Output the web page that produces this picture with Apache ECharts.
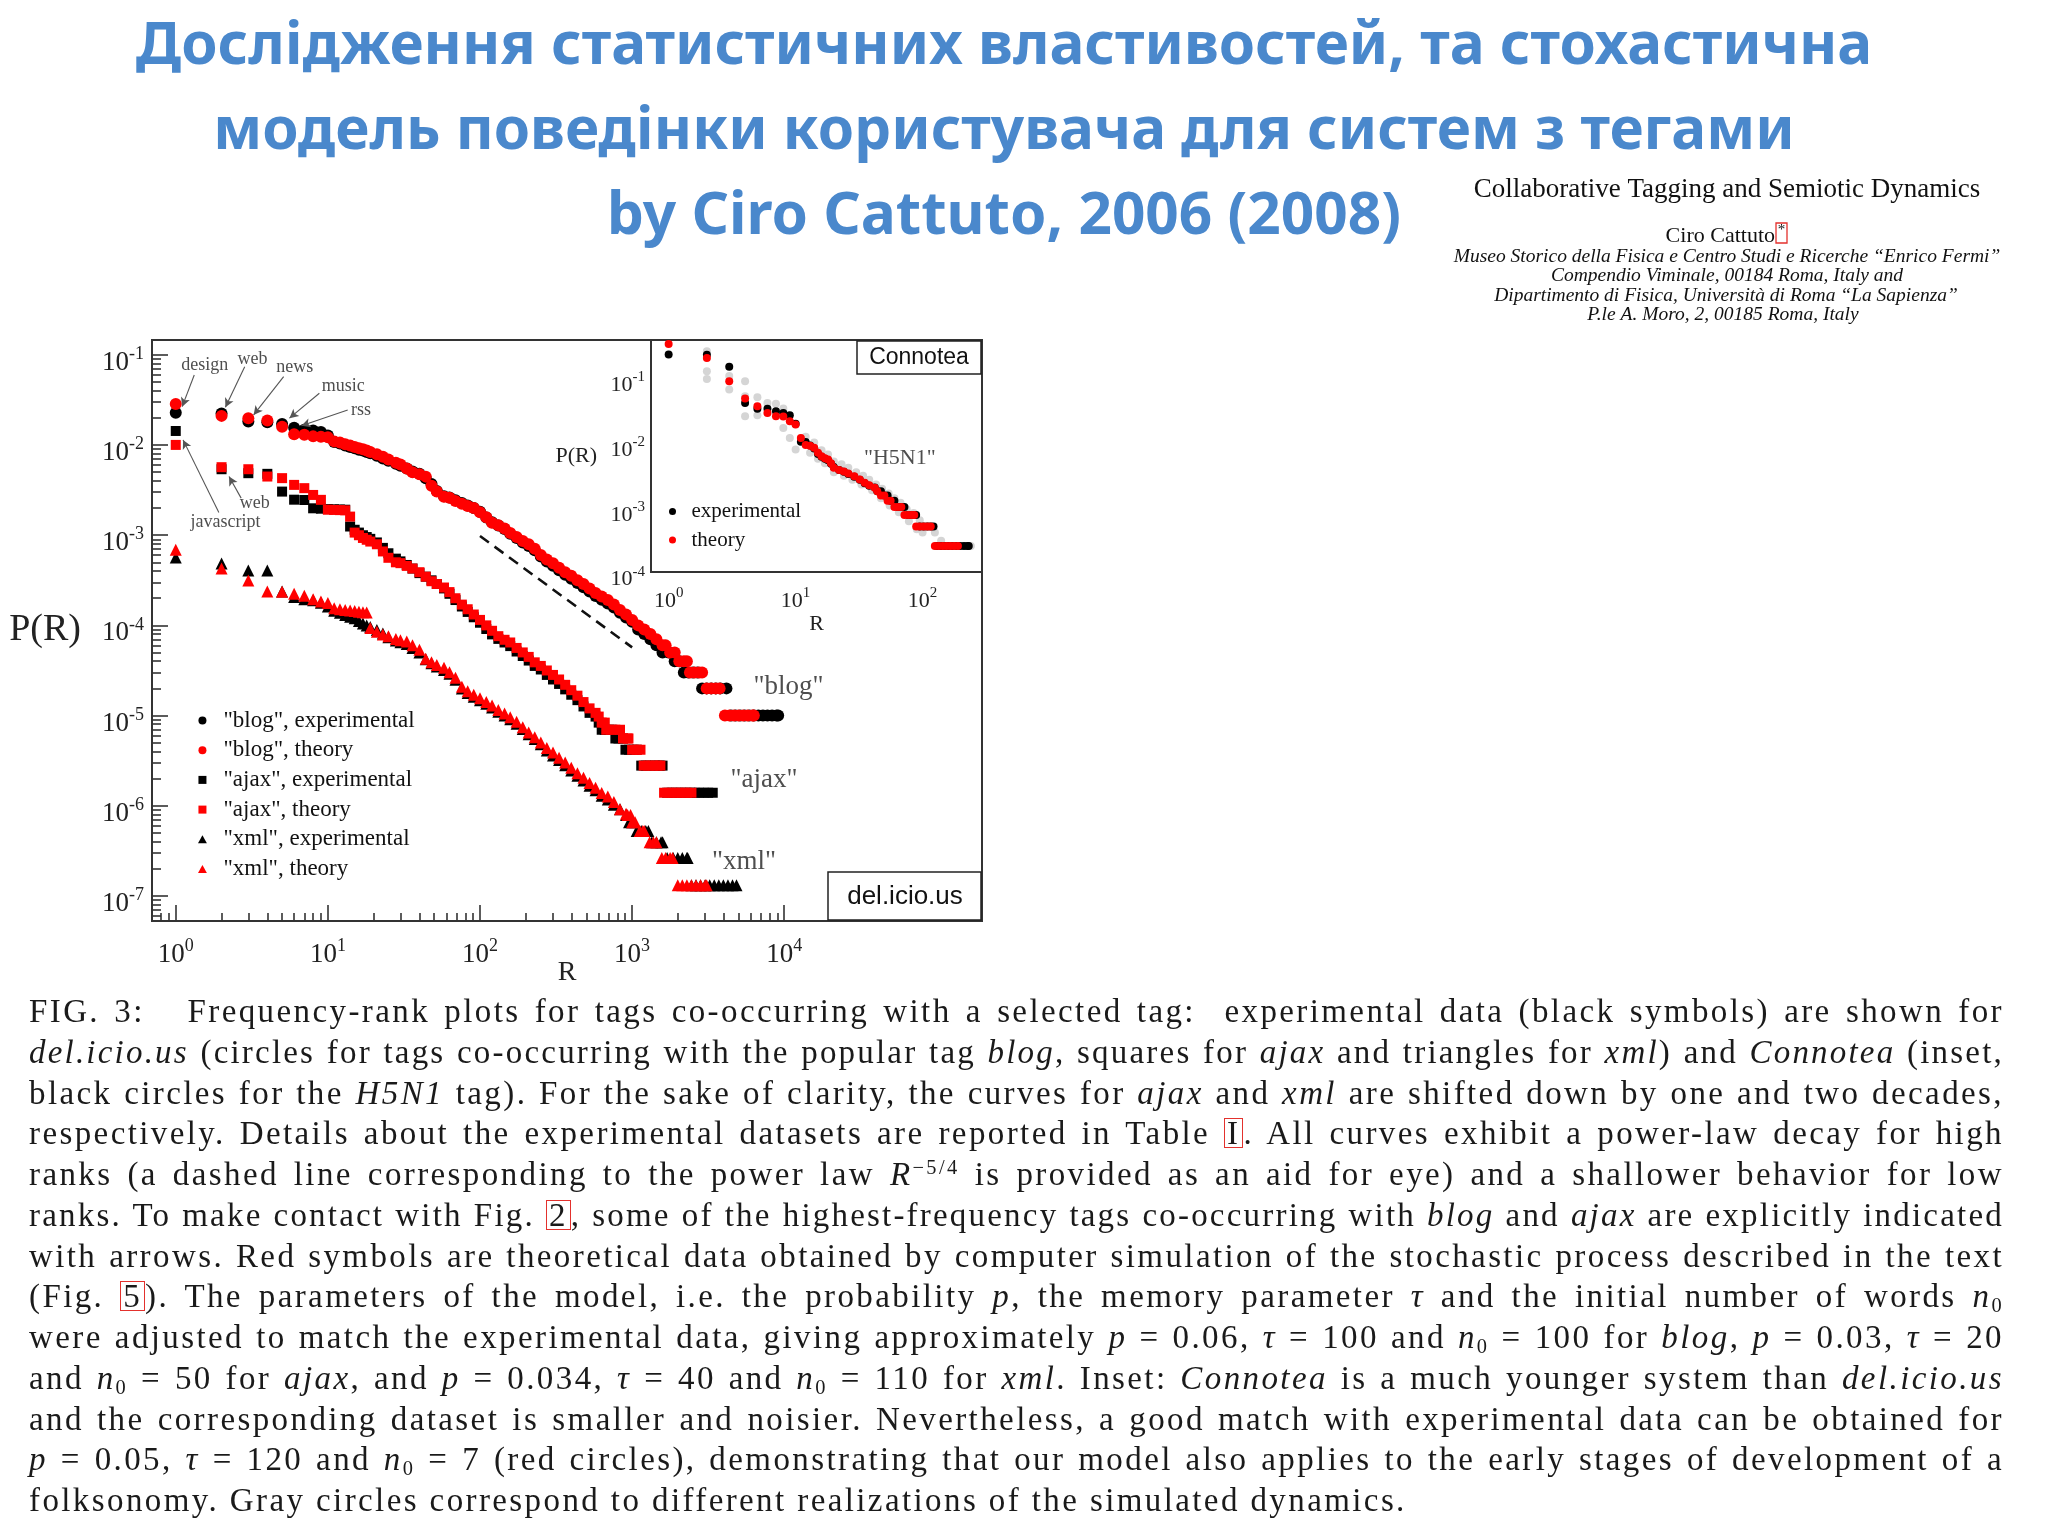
<!DOCTYPE html>
<html>
<head>
<meta charset="utf-8">
<script src="https://cdn.jsdelivr.net/npm/echarts@6/dist/echarts.min.js"></script>
<style>
html,body{margin:0;padding:0;background:#fff;}
#chart{position:absolute;left:0;top:0;width:2048px;height:1536px;}
#caption{position:absolute;left:29px;top:991px;width:1975px;font-family:'Liberation Serif','Times New Roman',serif;font-size:33px;line-height:40.75px;color:#1a1a1a;}
#caption .l{text-align:justify;text-align-last:justify;}
#caption .l.last{text-align:left;text-align-last:left;}
#caption sup{font-size:0.62em;vertical-align:0.55em;line-height:0;}
#caption sub{font-size:0.62em;vertical-align:-0.25em;line-height:0;}
#caption .rb{display:inline-block;line-height:0.82em;padding:1px 2px 0 2px;border:1.5px solid #e3312d;}
</style>
</head>
<body>
<div id="chart"></div>
<div id="caption">
<div class="l">FIG. 3:&nbsp;&nbsp; Frequency-rank plots for tags co-occurring with a selected tag:&nbsp; experimental data (black symbols) are shown for</div>
<div class="l"><i>del.icio.us</i> (circles for tags co-occurring with the popular tag <i>blog</i>, squares for <i>ajax</i> and triangles for <i>xml</i>) and <i>Connotea</i> (inset,</div>
<div class="l">black circles for the <i>H5N1</i> tag). For the sake of clarity, the curves for <i>ajax</i> and <i>xml</i> are shifted down by one and two decades,</div>
<div class="l">respectively. Details about the experimental datasets are reported in Table <span class="rb">I</span>. All curves exhibit a power-law decay for high</div>
<div class="l">ranks (a dashed line corresponding to the power law <i>R</i><sup>−5/4</sup> is provided as an aid for eye) and a shallower behavior for low</div>
<div class="l">ranks. To make contact with Fig. <span class="rb">2</span>, some of the highest-frequency tags co-occurring with <i>blog</i> and <i>ajax</i> are explicitly indicated</div>
<div class="l">with arrows. Red symbols are theoretical data obtained by computer simulation of the stochastic process described in the text</div>
<div class="l">(Fig. <span class="rb">5</span>). The parameters of the model, i.e. the probability <i>p</i>, the memory parameter <i>τ</i> and the initial number of words <i>n</i><sub>0</sub></div>
<div class="l">were adjusted to match the experimental data, giving approximately <i>p</i> = 0.06, <i>τ</i> = 100 and <i>n</i><sub>0</sub> = 100 for <i>blog</i>, <i>p</i> = 0.03, <i>τ</i> = 20</div>
<div class="l">and <i>n</i><sub>0</sub> = 50 for <i>ajax</i>, and <i>p</i> = 0.034, <i>τ</i> = 40 and <i>n</i><sub>0</sub> = 110 for <i>xml</i>. Inset: <i>Connotea</i> is a much younger system than <i>del.icio.us</i></div>
<div class="l">and the corresponding dataset is smaller and noisier. Nevertheless, a good match with experimental data can be obtained for</div>
<div class="l"><i>p</i> = 0.05, <i>τ</i> = 120 and <i>n</i><sub>0</sub> = 7 (red circles), demonstrating that our model also applies to the early stages of development of a</div>
<div class="l last">folksonomy. Gray circles correspond to different realizations of the simulated dynamics.</div>
</div>
<script>
// ---------------- tick values ----------------
const mainXMajor = [1, 10, 100, 1000, 10000];
const mainXMinor = [0.8, 0.9, 2, 3, 4, 5, 6, 7, 8, 9, 20, 30, 40, 50, 60, 70, 80, 90,
  200, 300, 400, 500, 600, 700, 800, 900, 2000, 3000, 4000, 5000, 6000, 7000, 8000, 9000];
const mainYMajor = [1e-7, 1e-6, 1e-5, 1e-4, 1e-3, 1e-2, 1e-1];
const mainYMinor = [6e-8, 7e-8, 8e-8, 9e-8,
  2e-7, 3e-7, 4e-7, 5e-7, 6e-7, 7e-7, 8e-7, 9e-7,
  2e-6, 3e-6, 4e-6, 5e-6, 6e-6, 7e-6, 8e-6, 9e-6,
  2e-5, 3e-5, 4e-5, 5e-5, 6e-5, 7e-5, 8e-5, 9e-5,
  2e-4, 3e-4, 4e-4, 5e-4, 6e-4, 7e-4, 8e-4, 9e-4,
  2e-3, 3e-3, 4e-3, 5e-3, 6e-3, 7e-3, 8e-3, 9e-3,
  2e-2, 3e-2, 4e-2, 5e-2, 6e-2, 7e-2, 8e-2, 9e-2];
const insetXMajor = [1, 10, 100];
const insetXMinor = [0.8, 0.9, 2, 3, 4, 5, 6, 7, 8, 9, 20, 30, 40, 50, 60, 70, 80, 90, 200];
const insetYMajor = [1e-4, 1e-3, 1e-2, 1e-1];
const insetYMinor = [2e-4, 3e-4, 4e-4, 5e-4, 6e-4, 7e-4, 8e-4, 9e-4,
  2e-3, 3e-3, 4e-3, 5e-3, 6e-3, 7e-3, 8e-3, 9e-3,
  2e-2, 3e-2, 4e-2, 5e-2, 6e-2, 7e-2, 8e-2, 9e-2, 0.2, 0.3];

// ---------------- del.icio.us data [rank R, P(R)] ----------------
const blogExp = [[1,2.28e-2],[2,2.24e-2],[3,1.83e-2],[4,1.79e-2],[5,1.72e-2],[6,1.56e-2],[7,1.48e-2],[8,1.45e-2],[9,1.40e-2],[10,1.28e-2],
  [11,1.08e-2],[12,1.04e-2],[13,9.9e-3],[14,9.5e-3],[15,9.2e-3],[16,8.9e-3],[17,8.7e-3],[18,8.4e-3],[19,8.1e-3],[21,7.6e-3],[23,7.1e-3],
  [25,6.7e-3],[28,6.2e-3],[30,5.9e-3],[33,5.5e-3],[36,5.1e-3],[40,4.8e-3],[44,4.3e-3],[48,3.7e-3],[52,3.1e-3],[58,2.7e-3],[63,2.62e-3],
  [69,2.45e-3],[76,2.28e-3],[83,2.14e-3],[91,2.01e-3],[100,1.82e-3],[110,1.57e-3],[120,1.39e-3],[132,1.28e-3],[145,1.17e-3],[158,1.04e-3],
  [174,9.3e-4],[191,8.3e-4],[209,7.6e-4],[229,6.8e-4],[251,5.8e-4],[275,5.1e-4],[302,4.6e-4],[331,4.1e-4],[363,3.65e-4],[398,3.3e-4],
  [437,2.95e-4],[479,2.65e-4],[525,2.38e-4],[575,2.12e-4],[631,1.93e-4],[692,1.75e-4],[759,1.58e-4],[832,1.38e-4],[912,1.22e-4],[1000,1.1e-4],
  [1096,9.0e-5],[1202,8.0e-5],[1318,7.0e-5],[1445,6.0e-5],[1585,5.0e-5],[1738,5.0e-5],[1905,4.0e-5],[2042,4.0e-5],
  [2188,3.0e-5],[2344,3.0e-5],[2512,3.0e-5],[2692,3.0e-5],
  [2884,2.0e-5],[3090,2.0e-5],[3311,2.0e-5],[3548,2.0e-5],[3802,2.0e-5],[4169,2.0e-5],
  [4467,1.0e-5],[4786,1.0e-5],[5129,1.0e-5],[5495,1.0e-5],[5888,1.0e-5],[6310,1.0e-5],[6761,1.0e-5],[7244,1.0e-5],[7762,1.0e-5],[8318,1.0e-5],[8913,1.0e-5],[9120,1.0e-5]];
const blogTheory = [[1,2.86e-2],[2,2.11e-2],[3,1.99e-2],[4,1.87e-2],[5,1.60e-2],[6,1.32e-2],[7,1.30e-2],[8,1.25e-2],[9,1.24e-2],[10,1.22e-2],
  [11,1.10e-2],[12,1.07e-2],[13,1.02e-2],[14,9.89e-3],[15,9.55e-3],[16,9.23e-3],[17,9.02e-3],[18,8.71e-3],[19,8.41e-3],[21,7.94e-3],[23,7.41e-3],
  [25,6.92e-3],[28,6.38e-3],[30,6.10e-3],[33,5.50e-3],[36,5.01e-3],[40,4.76e-3],[44,4.47e-3],[48,3.55e-3],[52,3.05e-3],[58,2.68e-3],[63,2.60e-3],
  [69,2.40e-3],[76,2.24e-3],[83,2.11e-3],[91,2.00e-3],[100,1.80e-3],[110,1.58e-3],[120,1.38e-3],[132,1.29e-3],[145,1.19e-3],[158,1.06e-3],
  [174,9.55e-4],[191,8.61e-4],[209,7.94e-4],[229,7.08e-4],[251,6.03e-4],[275,5.37e-4],[302,4.90e-4],[331,4.37e-4],[363,3.89e-4],[398,3.55e-4],
  [437,3.16e-4],[479,2.88e-4],[525,2.57e-4],[575,2.29e-4],[631,2.09e-4],[692,1.91e-4],[759,1.70e-4],[832,1.48e-4],[912,1.32e-4],[1000,1.15e-4],
  [1096,1.0e-4],[1202,9.0e-5],[1318,8.0e-5],[1445,7.0e-5],[1585,6.0e-5],[1660,6.0e-5],[1778,5.0e-5],[1905,5.0e-5],
  [2042,4.0e-5],[2188,4.0e-5],[2291,4.0e-5],
  [2399,3.0e-5],[2570,3.0e-5],[2754,3.0e-5],[2884,3.0e-5],
  [3090,2.0e-5],[3311,2.0e-5],[3548,2.0e-5],[3758,2.0e-5],
  [4074,1.0e-5],[4365,1.0e-5],[4677,1.0e-5],[5012,1.0e-5],[5370,1.0e-5],[5754,1.0e-5],[6166,1.0e-5],[6310,1.0e-5]];
const ajaxExp = [[1,1.435e-2],[2,5.40e-3],[3,4.88e-3],[4,4.80e-3],[5,3.05e-3],[6,2.48e-3],[7,2.46e-3],[8,1.99e-3],[9,1.97e-3],[10,1.95e-3],
  [11,1.94e-3],[12,1.93e-3],[13,1.92e-3],[14,1.25e-3],[15,1.15e-3],[16,1.07e-3],[17,1.00e-3],[18,9.55e-4],[19,9.12e-4],[21,8.32e-4],[23,7.24e-4],
  [25,6.31e-4],[28,5.50e-4],[30,5.13e-4],[33,4.68e-4],[36,4.27e-4],[40,3.80e-4],[44,3.47e-4],[48,3.16e-4],[52,2.88e-4],[58,2.57e-4],[63,2.24e-4],
  [69,1.91e-4],[76,1.62e-4],[83,1.41e-4],[91,1.23e-4],[100,1.07e-4],[110,9.12e-5],[120,7.94e-5],[132,7.08e-5],[145,6.46e-5],[158,5.89e-5],
  [174,5.13e-5],[191,4.57e-5],[209,4.07e-5],[229,3.55e-5],[251,3.24e-5],[275,2.82e-5],[302,2.51e-5],[331,2.24e-5],[363,1.95e-5],[398,1.70e-5],
  [437,1.48e-5],[479,1.26e-5],[525,1.07e-5],[575,9.73e-6],[603,8.34e-6],
  [631,6.95e-6],[661,6.95e-6],[708,6.95e-6],[741,6.95e-6],
  [776,5.56e-6],[813,5.56e-6],[871,5.56e-6],
  [904,4.17e-6],[955,4.17e-6],[1023,4.17e-6],[1072,4.17e-6],
  [1148,2.78e-6],[1230,2.78e-6],[1318,2.78e-6],[1413,2.78e-6],[1514,2.78e-6],[1585,2.78e-6],
  [1698,1.39e-6],[1820,1.39e-6],[1950,1.39e-6],[2089,1.39e-6],[2239,1.39e-6],[2399,1.39e-6],[2570,1.39e-6],[2754,1.39e-6],[2951,1.39e-6],[3162,1.39e-6],[3388,1.39e-6]];
const ajaxTheory = [[1,1.005e-2],[2,5.69e-3],[3,5.40e-3],[4,4.48e-3],[5,4.30e-3],[6,3.62e-3],[7,3.33e-3],[8,2.80e-3],[9,2.47e-3],[10,1.92e-3],
  [11,1.91e-3],[12,1.90e-3],[13,1.89e-3],[14,1.61e-3],[15,1.07e-3],[16,1.00e-3],[17,9.33e-4],[18,8.91e-4],[19,8.51e-4],[21,7.94e-4],[23,6.61e-4],
  [25,5.62e-4],[28,5.01e-4],[30,4.90e-4],[33,4.57e-4],[36,4.27e-4],[40,3.89e-4],[44,3.47e-4],[48,3.09e-4],[52,2.88e-4],[58,2.63e-4],[63,2.34e-4],
  [69,2.00e-4],[76,1.70e-4],[83,1.51e-4],[91,1.32e-4],[100,1.15e-4],[110,1.00e-4],[120,8.71e-5],[132,7.59e-5],[145,6.92e-5],[158,6.46e-5],
  [174,5.62e-5],[191,5.01e-5],[209,4.47e-5],[229,3.89e-5],[251,3.55e-5],[275,3.16e-5],[302,2.82e-5],[331,2.51e-5],[363,2.19e-5],[398,1.91e-5],
  [437,1.66e-5],[479,1.41e-5],[525,1.20e-5],[575,1.07e-5],[603,9.73e-6],[631,8.34e-6],[661,8.34e-6],
  [676,6.95e-6],[724,6.95e-6],[776,6.95e-6],[832,6.95e-6],
  [871,5.56e-6],[933,5.56e-6],[946,5.56e-6],
  [1000,4.17e-6],[1072,4.17e-6],[1135,4.17e-6],
  [1191,2.78e-6],[1276,2.78e-6],[1368,2.78e-6],[1466,2.78e-6],[1535,2.78e-6],
  [1622,1.39e-6],[1738,1.39e-6],[1862,1.39e-6],[1995,1.39e-6],[2138,1.39e-6],[2291,1.39e-6],[2455,1.39e-6]];
const xmlExp = [[1,5.66e-4],[2,4.86e-4],[3,4.06e-4],[4,4.05e-4],[5,2.38e-4],[6,2.06e-4],[7,1.95e-4],[8,1.90e-4],[9,1.78e-4],[10,1.62e-4],
  [11,1.45e-4],[12,1.38e-4],[13,1.30e-4],[14,1.25e-4],[15,1.20e-4],[16,1.12e-4],[17,1.05e-4],[18,1.00e-4],[19,9.6e-5],[21,8.9e-5],[23,8.1e-5],
  [25,7.4e-5],[28,6.8e-5],[30,6.5e-5],[33,6.2e-5],[36,5.6e-5],[40,5.0e-5],[44,4.2e-5],[48,3.8e-5],[52,3.5e-5],[58,3.2e-5],[63,2.9e-5],
  [69,2.5e-5],[76,2.0e-5],[83,1.78e-5],[91,1.62e-5],[100,1.48e-5],[110,1.35e-5],[120,1.23e-5],[132,1.10e-5],[145,1.00e-5],[158,9.1e-6],
  [174,8.1e-6],[191,7.1e-6],[209,6.2e-6],[229,5.5e-6],[251,4.8e-6],[275,4.1e-6],[302,3.6e-6],[331,3.2e-6],[363,2.8e-6],[398,2.45e-6],
  [437,2.14e-6],[479,1.9e-6],[525,1.66e-6],[575,1.48e-6],[631,1.29e-6],[692,1.17e-6],[759,1.02e-6],[832,9.1e-7],[912,7.86e-7],
  [955,6.55e-7],[1000,6.55e-7],
  [1072,5.24e-7],[1148,5.24e-7],[1230,5.24e-7],[1279,5.24e-7],
  [1349,3.93e-7],[1445,3.93e-7],[1549,3.93e-7],[1585,3.93e-7],
  [1698,2.62e-7],[1862,2.62e-7],[1995,2.62e-7],[2138,2.62e-7],[2291,2.62e-7],[2317,2.62e-7],
  [2455,1.31e-7],[2630,1.31e-7],[2818,1.31e-7],[3020,1.31e-7],[3236,1.31e-7],[3467,1.31e-7],[3715,1.31e-7],[3981,1.31e-7],[4266,1.31e-7],[4571,1.31e-7],[4853,1.31e-7]];
const xmlTheory = [[1,6.9e-4],[2,4.28e-4],[3,3.15e-4],[4,2.38e-4],[5,2.36e-4],[6,2.24e-4],[7,2.13e-4],[8,1.95e-4],[9,1.84e-4],[10,1.77e-4],
  [11,1.55e-4],[12,1.51e-4],[13,1.48e-4],[14,1.46e-4],[15,1.44e-4],[16,1.42e-4],[17,1.40e-4],[18,1.39e-4],[19,9.33e-5],[21,8.51e-5],[23,7.94e-5],
  [25,7.59e-5],[28,7.08e-5],[30,6.84e-5],[33,6.61e-5],[36,6.03e-5],[40,5.37e-5],[44,4.27e-5],[48,3.89e-5],[52,3.63e-5],[58,3.39e-5],[63,3.02e-5],
  [69,2.63e-5],[76,2.09e-5],[83,1.86e-5],[91,1.70e-5],[100,1.55e-5],[110,1.41e-5],[120,1.29e-5],[132,1.15e-5],[145,1.05e-5],[158,9.55e-6],
  [174,8.51e-6],[191,7.41e-6],[209,6.46e-6],[229,5.75e-6],[251,5.01e-6],[275,4.37e-6],[302,3.89e-6],[331,3.39e-6],[363,3.02e-6],[398,2.63e-6],
  [437,2.29e-6],[479,2.04e-6],[525,1.78e-6],[575,1.58e-6],[631,1.38e-6],[692,1.26e-6],[759,1.10e-6],[832,9.12e-7],[912,8.13e-7],
  [933,7.86e-7],[977,7.86e-7],
  [1000,6.55e-7],[1047,6.55e-7],
  [1122,5.24e-7],[1175,5.24e-7],[1202,5.24e-7],
  [1303,3.93e-7],[1380,3.93e-7],[1445,3.93e-7],
  [1567,2.62e-7],[1660,2.62e-7],[1778,2.62e-7],[1845,2.62e-7],
  [1995,1.31e-7],[2138,1.31e-7],[2291,1.31e-7],[2455,1.31e-7],[2630,1.31e-7],[2818,1.31e-7],[3020,1.31e-7],[3090,1.31e-7]];

// power law R^-5/4 guide (dashed)
const powerLawGuide = [[100, 9.8e-4], [1000, 5.7e-5]];

// ---------------- Connotea inset data ----------------
const connoteaExp = [[1,0.221],[2,0.219],[3,0.143],[4,0.0398],[5,0.0324],[6,0.0322],[7,0.0296],[8,0.0279],[9,0.0257],[10,0.019],
  [11,0.0100],[12,0.0099],[13,0.0088],[14,7.9e-3],[15,6.5e-3],[16,5.9e-3],[17,5.5e-3],[18,5.2e-3],[19,4.6e-3],[20,4.1e-3],[22,3.7e-3],
  [24,3.45e-3],[26,3.2e-3],[29,2.9e-3],[32,2.6e-3],[35,2.3e-3],[38,2.1e-3],[42,1.98e-3],[44,1.74e-3],[47,1.74e-3],[50,1.49e-3],[53,1.49e-3],
  [56,1.24e-3],[60,1.24e-3],[64,9.93e-4],[68,9.93e-4],[72,9.93e-4],[77,7.45e-4],[82,7.45e-4],[86,7.45e-4],[89,7.45e-4],
  [95,4.97e-4],[102,4.97e-4],[109,4.97e-4],[116,4.97e-4],[122,4.97e-4],
  [130,2.48e-4],[140,2.48e-4],[150,2.48e-4],[160,2.48e-4],[172,2.48e-4],[185,2.48e-4],[198,2.48e-4],[212,2.48e-4],[226,2.48e-4],[231,2.48e-4]];
const connoteaTheory = [[1,0.322],[2,0.196],[3,0.086],[4,0.0464],[5,0.0354],[6,0.0279],[7,0.0248],[8,0.0245],[9,0.0208],[10,0.0185],
  [11,0.0115],[12,0.0089],[13,0.0087],[14,8.1e-3],[15,6.8e-3],[16,6.0e-3],[17,5.6e-3],[18,5.35e-3],[19,4.7e-3],[20,4.0e-3],[22,3.7e-3],
  [24,3.5e-3],[26,3.24e-3],[29,2.96e-3],[32,2.63e-3],[35,2.34e-3],[38,2.14e-3],[42,1.96e-3],[44,1.74e-3],[47,1.49e-3],[50,1.49e-3],
  [53,1.24e-3],[56,1.24e-3],[60,9.93e-4],[64,9.93e-4],[68,9.93e-4],[72,7.45e-4],[77,7.45e-4],[82,7.45e-4],[86,7.45e-4],
  [89,4.97e-4],[95,4.97e-4],[102,4.97e-4],[109,4.97e-4],[116,4.97e-4],
  [125,2.48e-4],[134,2.48e-4],[144,2.48e-4],[154,2.48e-4],[165,2.48e-4],[177,2.48e-4],[190,2.48e-4]];
const connoteaRealizations = [[2,0.248],[2,0.122],[2,0.093],[3,0.103],[3,0.0638],[4,0.0859],[4,0.0505],[4,0.0248],[5,0.0488],[5,0.0257],
  [6,0.0398],[7,0.0385],[8,0.0326],[8,0.0164],[9,0.0115],[10,0.0076],[10,0.0186],
  [12,0.0120],[14,0.0098],[16,0.0074],[18,0.0064],[20,0.0050],[23,0.0045],[26,0.0040],[30,0.0034],[34,0.0030],[38,0.0026],[43,0.0022],
  [48,0.0019],[54,0.0016],[60,0.00135],[67,0.00115],[75,0.00092],[85,0.00080],[95,0.00062],[110,0.00050],[125,0.00040],[140,0.00030],
  [160,2.48e-4],[190,2.48e-4],[215,2.48e-4],[240,2.48e-4],
  [13,0.0068],[15,0.0055],[17,0.0047],[20,0.0034],[24,0.0030],[28,0.0026],[33,0.0022],[40,0.0018],[47,0.00135],[55,0.00105],[65,0.00082],
  [78,0.00060],[90,0.00045],[100,0.00040]];

// ---------------- annotations ----------------
const tagNotes = [['design',1.55,0.0775],['web',3.19,0.0896],['news',6.06,0.0731],['music',12.6,0.0446],['rss',16.5,0.0245],
  ['web',3.30,0.00227],['javascript',2.12,0.0014]];
const tagArrows = [[[1.323,0.060],[1.102,0.0267]],[[2.84,0.0741],[2.12,0.0263]],[[5.12,0.0574],[3.25,0.0216]],
  [[8.79,0.0376],[5.59,0.0199]],[[13.5,0.0245],[6.70,0.0164]],[[2.69,0.00258],[2.24,0.00448]],[[1.92,0.00179],[1.117,0.01143]]];
const curveNames = [['"blog"',10674,2.08e-5],['"ajax"',7365,1.94e-6],['"xml"',5433,2.39e-7]];
const insetCurveName = [['"H5N1"',66.2,5.68e-3]];

const mainLegend = ['"blog", experimental','"blog", theory','"ajax", experimental','"ajax", theory','"xml", experimental','"xml", theory'];
const mainLegendIcons = ['circle','circle','path://M0,0L10,0L10,10L0,10Z','path://M0,0L10,0L10,10L0,10Z','path://M5,0L10,9L0,9Z','path://M5,0L10,9L0,9Z'];
const insetLegend = ['experimental','theory'];

// ---------------- chart ----------------
const SERIF = "'Liberation Serif','Times New Roman',serif";
const INK = '#222';
function expLabel(v) { return '{b|10}{s|' + Math.round(Math.log10(v)) + '}'; }
function rich(big, small) {
  return {
    b: {fontFamily: SERIF, fontSize: big, lineHeight: big + 8, color: INK},
    s: {fontFamily: SERIF, fontSize: small, lineHeight: small, verticalAlign: 'top', color: INK}
  };
}
function axis(grid, min, max, pos, major, ticks, len, labelOpt, nameOpt) {
  const a = {
    gridIndex: grid, type: 'log', logBase: 10, min: min, max: max, position: pos,
    axisLine: {show: false}, splitLine: {show: false}, minorTick: {show: false},
    axisTick: {show: true, inside: true, length: len, customValues: ticks, lineStyle: {color: '#333', width: 1.6}},
    axisLabel: {show: false}
  };
  if (major && labelOpt) {
    a.axisLabel = {show: true, customValues: ticks, formatter: expLabel, margin: labelOpt.margin,
      padding: labelOpt.padding || 0, rich: rich(labelOpt.big, labelOpt.small)};
  }
  if (nameOpt) {
    a.name = nameOpt.text; a.nameLocation = 'middle'; a.nameGap = nameOpt.gap; a.nameRotate = 0;
    a.nameTextStyle = {fontFamily: SERIF, fontSize: nameOpt.size, color: INK};
    if (nameOpt.noMove) { a.nameMoveOverlap = false; }
  }
  return a;
}

const chart = echarts.init(document.getElementById('chart'), null, {renderer: 'canvas', width: 2048, height: 1536});

function sc(name, data, xi, yi, symbol, size, color, z) {
  return {type: 'scatter', name: name, data: data, xAxisIndex: xi, yAxisIndex: yi, symbol: symbol, symbolSize: size,
    itemStyle: {color: color, opacity: 1}, z: z || 2, silent: true, clip: true};
}

const TITLE_FONT = 'bold 58.5px "Noto Sans"';
const TITLE_COLOR = '#4a88cc';

const option = {
  animation: false,
  backgroundColor: '#fff',
  grid: [
    {left: 152, top: 340, width: 830, height: 581, show: true, borderColor: '#333', borderWidth: 2, backgroundColor: '#fff', containLabel: false, outerBoundsMode: 'none'},
    {left: 651, top: 340, width: 331, height: 232, show: true, borderColor: '#333', borderWidth: 2, backgroundColor: '#fff', containLabel: false, outerBoundsMode: 'none', z: 1}
  ],
  xAxis: [
    axis(0, 0.698, 199500, 'bottom', true, mainXMajor, 16, {margin: 16, big: 27, small: 18}, {text: 'R', gap: 38, size: 28, noMove: true}),
    axis(0, 0.698, 199500, 'bottom', false, mainXMinor, 8),
    axis(1, 0.726, 293.8, 'bottom', true, insetXMajor, 15, {margin: 14, big: 22, small: 15}, {text: 'R', gap: 40, size: 22}),
    axis(1, 0.726, 293.8, 'bottom', false, insetXMinor, 8)
  ],
  yAxis: [
    axis(0, 5.25e-8, 0.1466, 'left', true, mainYMajor, 16, {margin: 8, big: 27, small: 18, padding: [16, 0, 0, 0]}, {text: 'P(R)', gap: 71, size: 38}),
    axis(0, 5.25e-8, 0.1466, 'left', false, mainYMinor, 9),
    axis(1, 9.9e-5, 0.37, 'left', true, insetYMajor, 15, {margin: 6, big: 22, small: 15, padding: [16, 0, 0, 0]}, {text: 'P(R)', gap: 54, size: 22}),
    axis(1, 9.9e-5, 0.37, 'left', false, insetYMinor, 8)
  ],
  legend: [
    {data: mainLegend.map((n, i) => ({name: n, icon: mainLegendIcons[i]})), orient: 'vertical', left: 198, top: 709, padding: 0,
      itemWidth: 32, itemHeight: 8, itemGap: 6.7, symbolKeepAspect: true,
      selectedMode: false, textStyle: {fontFamily: SERIF, fontSize: 23, lineHeight: 22, color: '#111'}},
    {data: insetLegend, orient: 'vertical', left: 669, top: 501, padding: 0, itemWidth: 28, itemHeight: 7, itemGap: 7.6,
      selectedMode: false, textStyle: {fontFamily: SERIF, fontSize: 21, lineHeight: 20, color: '#111'}, z: 5}
  ],
  series: [
    sc('realizations', connoteaRealizations, 2, 2, 'circle', 8, '#d5d5d5', 3),
    sc('experimental', connoteaExp, 2, 2, 'circle', 8, '#000', 3),
    sc('theory', connoteaTheory, 2, 2, 'circle', 8, '#ff0000', 3),
    sc('"blog", experimental', blogExp, 0, 0, 'circle', 12, '#000'),
    sc('"blog", theory', blogTheory, 0, 0, 'circle', 12, '#ff0000'),
    sc('"ajax", experimental', ajaxExp, 0, 0, 'rect', 10, '#000'),
    sc('"ajax", theory', ajaxTheory, 0, 0, 'rect', 10, '#ff0000'),
    sc('"xml", experimental', xmlExp, 0, 0, 'triangle', 12, '#000'),
    sc('"xml", theory', xmlTheory, 0, 0, 'triangle', 12, '#ff0000'),
    {type: 'line', name: 'R^-5/4', data: powerLawGuide, xAxisIndex: 0, yAxisIndex: 0, symbol: 'none', silent: true,
      lineStyle: {color: '#111', width: 2.6, type: [11, 7]}, z: 2},
    {type: 'scatter', name: 'tags', xAxisIndex: 0, yAxisIndex: 0, symbolSize: 0, silent: true,
      data: tagNotes.map(t => ({value: [t[1], t[2]], name: t[0]})),
      label: {show: true, position: 'inside', formatter: p => p.name, fontFamily: SERIF, fontSize: 18, color: INK},
      markLine: {silent: true, symbol: ['none', 'arrow'], symbolSize: [7, 9], animation: false, label: {show: false},
        lineStyle: {color: '#555', width: 1.1, type: 'solid'},
        data: tagArrows.map(a => [{coord: a[0]}, {coord: a[1]}])}, z: 4},
    {type: 'scatter', name: 'curveNames', xAxisIndex: 0, yAxisIndex: 0, symbolSize: 0, silent: true,
      data: curveNames.map(t => ({value: [t[1], t[2]], name: t[0]})),
      label: {show: true, position: 'inside', formatter: p => p.name, fontFamily: SERIF, fontSize: 27, color: INK}, z: 4},
    {type: 'scatter', name: 'insetName', xAxisIndex: 2, yAxisIndex: 2, symbolSize: 0, silent: true,
      data: insetCurveName.map(t => ({value: [t[1], t[2]], name: t[0]})),
      label: {show: true, position: 'inside', formatter: p => p.name, fontFamily: SERIF, fontSize: 22, color: INK}, z: 4}
  ],
  graphic: [
    {type: 'text', x: 1004, y: 47, style: {text: 'Дослідження статистичних властивостей, та стохастична', font: TITLE_FONT, fill: TITLE_COLOR, align: 'center', verticalAlign: 'middle'}},
    {type: 'text', x: 1004, y: 132, style: {text: 'модель поведінки користувача для систем з тегами', font: TITLE_FONT, fill: TITLE_COLOR, align: 'center', verticalAlign: 'middle'}},
    {type: 'text', x: 1004, y: 217, style: {text: 'by Ciro Cattuto, 2006 (2008)', font: TITLE_FONT, fill: TITLE_COLOR, align: 'center', verticalAlign: 'middle'}},
    {type: 'text', x: 1727, y: 190, style: {text: 'Collaborative Tagging and Semiotic Dynamics', font: '27px "Liberation Serif"', fill: '#111', align: 'center', verticalAlign: 'middle'}},
    {type: 'text', x: 1775, y: 236, style: {text: 'Ciro Cattuto', font: '22px "Liberation Serif"', fill: '#111', align: 'right', verticalAlign: 'middle'}},
    {type: 'text', x: 1781.5, y: 230, style: {text: '*', font: '15px "Liberation Serif"', fill: '#111', align: 'center', verticalAlign: 'middle'}},
    {type: 'rect', shape: {x: 1776, y: 223, width: 11, height: 20}, style: {fill: 'none', stroke: '#e3312d', lineWidth: 1.3}},
    {type: 'text', x: 1727, y: 257, style: {text: 'Museo Storico della Fisica e Centro Studi e Ricerche “Enrico Fermi”', font: 'italic 19.5px "Liberation Serif"', fill: '#111', align: 'center', verticalAlign: 'middle'}},
    {type: 'text', x: 1727, y: 276, style: {text: 'Compendio Viminale, 00184 Roma, Italy and', font: 'italic 19.5px "Liberation Serif"', fill: '#111', align: 'center', verticalAlign: 'middle'}},
    {type: 'text', x: 1726, y: 296, style: {text: 'Dipartimento di Fisica, Università di Roma “La Sapienza”', font: 'italic 19.5px "Liberation Serif"', fill: '#111', align: 'center', verticalAlign: 'middle'}},
    {type: 'text', x: 1723, y: 315, style: {text: 'P.le A. Moro, 2, 00185 Roma, Italy', font: 'italic 19.5px "Liberation Serif"', fill: '#111', align: 'center', verticalAlign: 'middle'}},
    {type: 'rect', z: 10, shape: {x: 857, y: 341, width: 124, height: 33}, style: {fill: '#fff', stroke: '#222', lineWidth: 1.5}},
    {type: 'text', z: 11, x: 919, y: 358, style: {text: 'Connotea', font: '23px "Liberation Sans"', fill: '#111', align: 'center', verticalAlign: 'middle'}},
    {type: 'rect', z: 10, shape: {x: 828, y: 872, width: 153, height: 48}, style: {fill: '#fff', stroke: '#222', lineWidth: 1.5}},
    {type: 'text', z: 11, x: 905, y: 897, style: {text: 'del.icio.us', font: '26px "Liberation Sans"', fill: '#111', align: 'center', verticalAlign: 'middle'}}
  ]
};
chart.setOption(option);

// caption: widen letters like the original typeface, but keep every line on one row
document.querySelectorAll('#caption .l').forEach(function (div) {
  let ls = 2.4;
  div.style.letterSpacing = ls + 'px';
  while (div.getBoundingClientRect().height > 60 && ls > -2) {
    ls -= 0.2;
    div.style.letterSpacing = ls + 'px';
  }
});
</script>
</body>
</html>
